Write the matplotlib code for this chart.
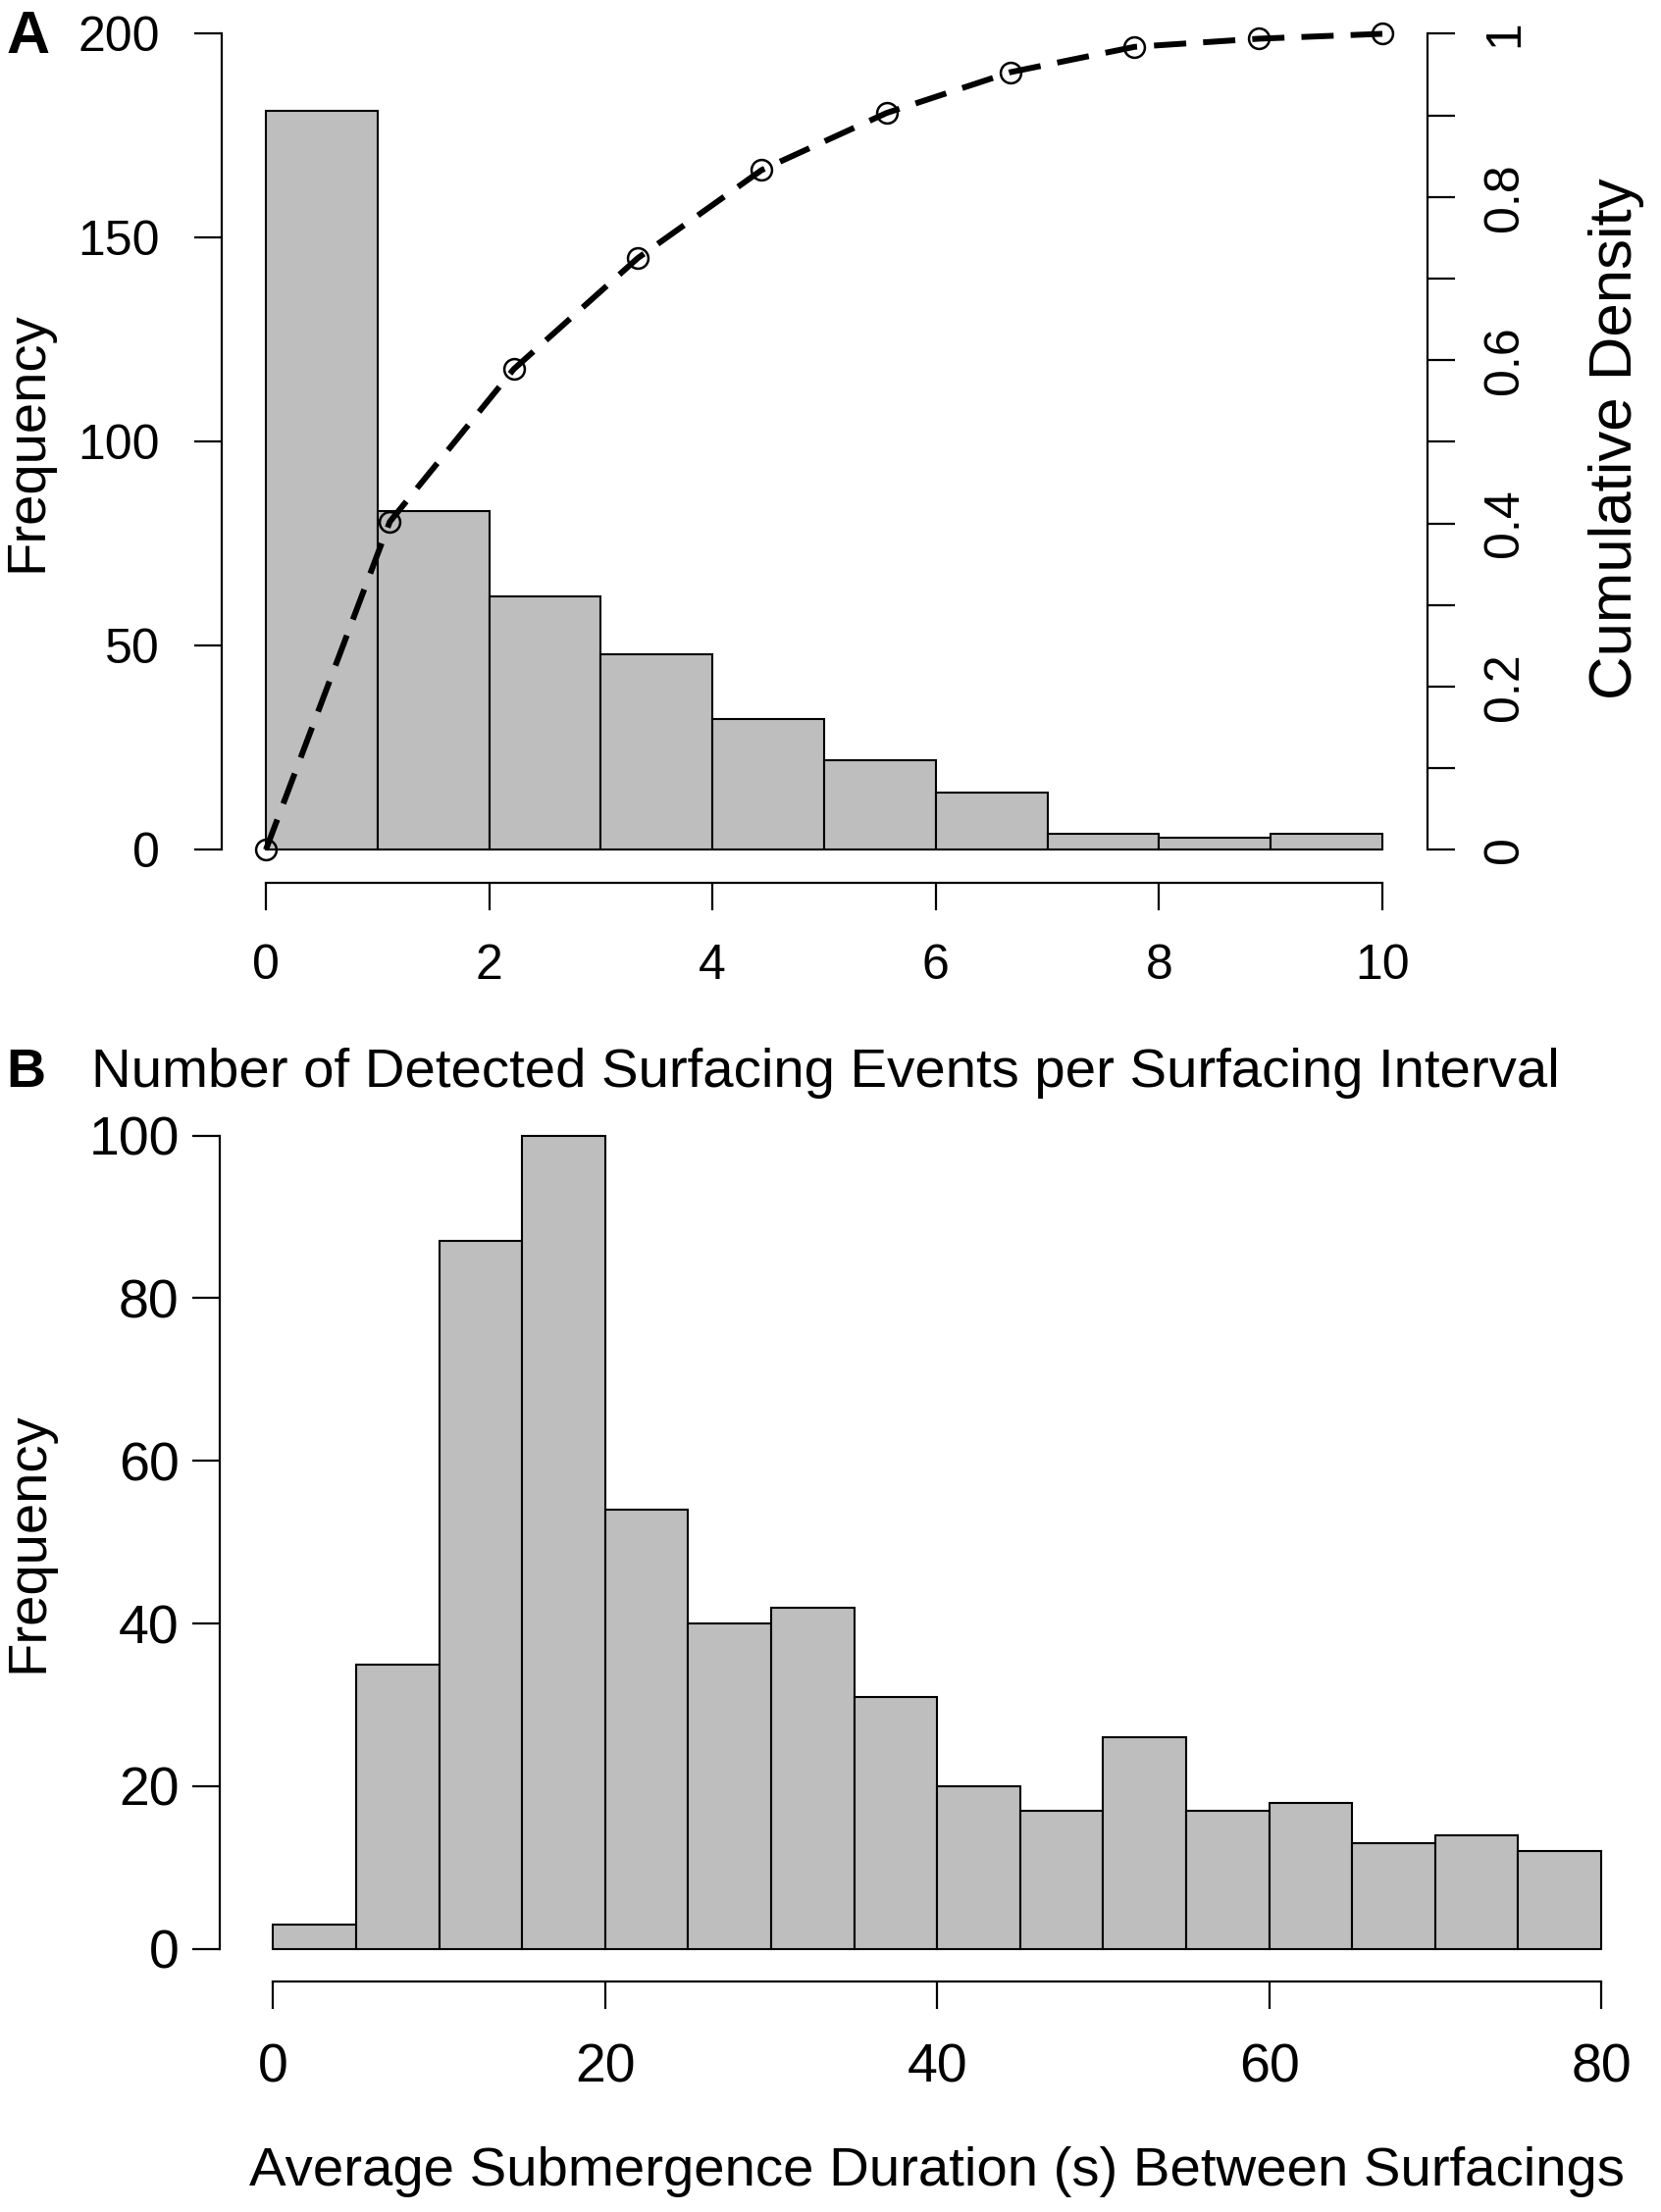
import matplotlib
matplotlib.use("Agg")
import matplotlib.pyplot as plt
import numpy as np

plt.rcParams['font.family'] = ['Liberation Sans', 'DejaVu Sans']

# panel A: detected surfacing events per interval
a_edges = [0, 1, 2, 3, 4, 5, 6, 7, 8, 9, 10]
a_counts = [181, 83, 62, 48, 32, 22, 14, 4, 3, 4]
a_cum_x = [0, 1.11, 2.22, 3.33, 4.44, 5.56, 6.67, 7.78, 8.89, 10]
a_cum_y = [0, 0.402, 0.589, 0.725, 0.833, 0.903, 0.953, 0.984, 0.994, 1.0]
a_xticks = [0, 2, 4, 6, 8, 10]
a_yticks = [0, 50, 100, 150, 200]
a_cum_ticks = [0, 0.1, 0.2, 0.3, 0.4, 0.5, 0.6, 0.7, 0.8, 0.9, 1.0]
a_cum_labels = ['0', '', '0.2', '', '0.4', '', '0.6', '', '0.8', '', '1']

# panel B: average submergence duration
b_edges = list(range(0, 85, 5))
b_counts = [3, 35, 87, 100, 54, 40, 42, 31, 20, 17, 26, 17, 18, 13, 14, 12]
b_xticks = [0, 20, 40, 60, 80]
b_yticks = [0, 20, 40, 60, 80, 100]

W, H = 1693, 2255
fig = plt.figure(figsize=(W / 100, H / 100), dpi=100)

def px(x0, y0, x1, y1):
    # pixel box (top-left origin) -> figure fraction rect
    return [x0 / W, 1 - y1 / H, (x1 - x0) / W, (y1 - y0) / H]

def r_style(ax, xb, yb, fs, xpad, ypad):
    for s in ['top', 'right']:
        ax.spines[s].set_visible(False)
    ax.spines['bottom'].set_bounds(*xb)
    ax.spines['left'].set_bounds(*yb)
    for s in ['bottom', 'left']:
        ax.spines[s].set_linewidth(1.6)
    ax.tick_params(axis='both', direction='out', length=20, width=1.6, labelsize=fs)
    ax.tick_params(axis='x', pad=xpad)
    ax.tick_params(axis='y', pad=ypad)

# ---- panel A ----
axA = fig.add_axes(px(225.5, 1.2, 1454.5, 899.5))
axA.bar(a_edges[:-1], a_counts, width=np.diff(a_edges), align='edge',
        color='#bebebe', edgecolor='black', linewidth=1.5)
axA.set_xlim(-0.4, 10.4)
axA.set_ylim(-8, 208)
axA.set_xticks(a_xticks)
axA.set_yticks(a_yticks)
r_style(axA, (0, 10), (0, 200), 36, 25, 25)

axA2 = axA.twinx()
axA2.plot(a_cum_x, a_cum_y, color='black', lw=4.3, ls=(0, (5.5, 2.9)),
          marker='o', ms=15, mfc='none', mec='black', mew=1.8)
axA2.set_ylim(-0.04, 1.04)
axA2.set_yticks(a_cum_ticks)
axA2.set_yticklabels(a_cum_labels, rotation=90, va='center')
for s in ['top', 'left', 'bottom']:
    axA2.spines[s].set_visible(False)
axA2.spines['right'].set_bounds(0, 1)
axA2.spines['right'].set_linewidth(1.6)
axA2.tick_params(axis='y', direction='out', length=20, width=1.6, labelsize=36, pad=21)

fig.text(6 / W, 1 - 39 / H, 'A', fontsize=44, fontweight='bold', ha='left', va='center')
fig.text(28.5 / W, 1 - 450 / H, 'Frequency', fontsize=40.5, rotation=90, ha='center', va='center')
fig.text(1647 / W, 1 - 447 / H, 'Cumulative Density', fontsize=44.5, rotation=90, ha='center', va='center')

# ---- panel B ----
axB = fig.add_axes(px(224.3, 1124.4, 1686.1, 2020))
axB.bar(b_edges[:-1], b_counts, width=np.diff(b_edges), align='edge',
        color='#bebebe', edgecolor='black', linewidth=1.5)
axB.set_xlim(-3.2, 83.2)
axB.set_ylim(-4, 104)
axB.set_xticks(b_xticks)
axB.set_yticks(b_yticks)
r_style(axB, (0, 80), (0, 100), 40, 25, 10)

fig.text(6 / W, 1 - 1094 / H, 'B', fontsize=40, fontweight='bold', ha='left', va='center')
fig.text(93 / W, 1 - 1094 / H, 'Number of Detected Surfacing Events per Surfacing Interval',
         fontsize=40.6, ha='left', va='center')
fig.text(29 / W, 1 - 1572 / H, 'Frequency', fontsize=40.5, rotation=90, ha='center', va='center')
fig.text(955 / W, 1 - 2214 / H, 'Average Submergence Duration (s) Between Surfacings',
         fontsize=40.6, ha='center', va='center')

fig.savefig('out.png', dpi=100)
